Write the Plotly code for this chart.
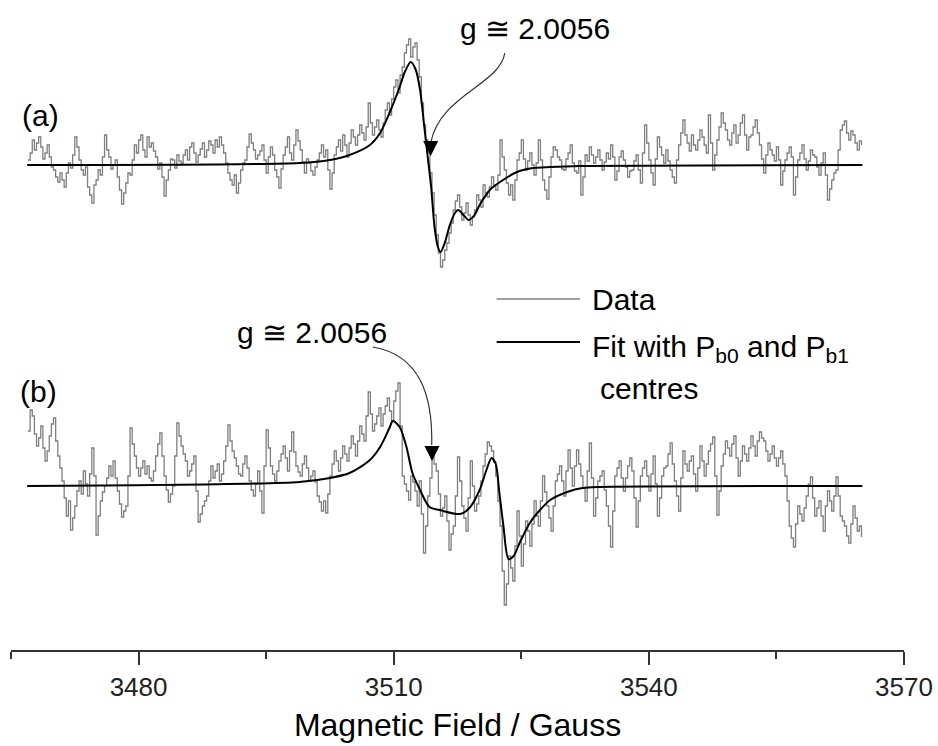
import numpy as np
import plotly.graph_objects as go

# EPR spectra, intensity in arbitrary units (baseline = 0)
field_start = 3467.0
field_step = 0.25

data_a = [
    5, 12, 25, 15, 22, 28, 18, 6, 12, 20, 8, -2, -5, -12, -17, -8, -15, -22, -8, 2,
    -3, 10, 28, 18, 5, -5, -10, -2, -22, -30, -38, -20, -15, -5, -10, 8, 30, 15, 8, -4,
    0, 5, -12, -25, -39, -28, -18, -8, -10, 5, 20, 12, 25, 30, 15, 8, 28, 18, 22, 14,
    8, -4, 2, -12, -31, -15, -5, 6, 5, -3, 10, 4, 2, 10, 15, 5, 18, 22, 12, 3,
    10, 16, 22, 8, 15, 24, 20, 12, 25, 18, 28, 20, 12, 2, -8, -15, -20, -10, -28, -18,
    -5, 2, 5, 18, 31, 22, 15, 6, 10, 14, 20, 5, -8, 8, 18, 10, -5, -12, -23, -4,
    10, 18, 28, 12, 5, 20, 35, 24, 15, 3, -8, 6, 2, -6, -10, -2, 5, 12, 20, 8,
    15, -5, -24, -8, 10, 18, 25, 14, 30, 20, 8, 22, 35, 28, 20, 30, 40, 32, 25, 38,
    62, 42, 30, 38, 45, 35, 28, 42, 55, 62, 50, 66, 78, 85, 72, 90, 98, 112, 120, 126,
    108, 118, 122, 105, 88, 62, 40, 25, 12, -8, -28, -50, -70, -88, -102, -95, -85, -78, -68, -58,
    -45, -36, -30, -42, -55, -48, -38, -50, -60, -52, -45, -30, -35, -42, -20, -28, -32, -22, -12, -20,
    -25, -10, 25, 8, -5, -18, -30, -20, -35, -15, 5, 12, 25, 6, -5, 4, 12, 0, -10, 2,
    25, 5, -15, -25, -34, -12, 8, 18, 15, 8, 5, -4, -5, 6, 12, 20, 2, -6, -8, 4,
    -30, -12, 10, 4, 18, 10, 2, 8, 15, 5, -5, 3, 12, 6, 20, 8, -15, -6, 8, 14,
    5, -2, -12, -6, -5, 4, 10, -5, -18, 12, 40, 22, 5, -8, -20, 6, 28, 18, 10, 2,
    15, 4, -5, -12, -18, 5, 20, 32, 45, 30, 22, 14, 30, 20, 15, 25, 35, 28, 20, 12,
    50, 22, -5, 10, 25, 38, 52, 42, 35, 25, 20, 32, 40, 22, 30, 42, 50, 30, 15, 28,
    30, 38, 45, 32, 20, 6, -8, 10, 22, 15, 10, 4, 18, 5, -20, -6, 5, 12, 18, 8,
    -30, -12, 5, 12, 20, 6, -5, 4, 15, 10, 8, -2, -10, 2, 12, -10, -35, -24, -15, -8,
    -5, 15, 35, 40, 44, 32, 25, 34, 30, 22, 15, 24, 20,
]

data_b = [
    55, 76, 70, 52, 40, 48, 60, 38, 25, 35, 50, 62, 68, 45, 30, 18, 5, -12, -30, -15,
    -44, -32, -20, -5, 5, -8, 15, 2, -10, 12, 38, 10, -49, -30, -15, -6, 0, 8, 20, 10,
    25, 8, -5, -18, -31, -25, -20, 10, 58, 42, 30, 18, 10, 18, 25, 12, 20, 8, 5, 15,
    30, 42, 53, 30, 10, -4, -16, -8, 0, 30, 63, 50, 40, 32, 25, 10, 15, 22, 30, -5,
    -36, -28, -20, -15, -10, 5, 20, 8, 15, 22, 5, 12, 25, 40, 61, 45, 35, 28, 20, 12,
    10, 22, 30, 18, 5, -4, -10, 2, 15, -5, -27, 20, 56, 38, 20, 12, 5, 15, 25, 32,
    40, 28, 15, 35, 54, 34, 20, 14, 10, 22, 30, 18, 5, 10, 15, 4, -10, -16, -25, -15,
    -27, -8, 10, 22, 35, 25, 15, 28, 40, 32, 25, 38, 50, 42, 30, 45, 60, 52, 45, 70,
    94, 72, 55, 62, 70, 78, 60, 72, 80, 88, 75, 65, 85, 95, 103, 60, 10, 2, -5, -14,
    10, 4, -5, -20, 5, -28, -67, -40, -10, 8, 29, 22, 15, -8, -30, -22, -10, -35, -64, -48,
    -40, -10, 29, 5, -20, -32, -45, -12, 25, 0, -25, -18, -10, 5, 20, 32, 44, 40, 35, 24,
    10, -15, -40, -85, -119, -98, -70, -82, -95, -60, -25, -50, -80, -58, -35, -45, -60, -38, -15, -30,
    -40, -15, 10, -6, -20, -32, -45, -20, 5, 12, 20, 5, -10, 15, 36, 18, 0, 20, 36, 22,
    10, -2, -15, 15, 43, 8, -30, -12, 5, 10, 15, -4, -20, -40, -61, -25, 10, 18, 25, 8,
    -5, 8, 20, 28, 15, -12, -41, -15, 10, 18, 25, 10, -5, 12, 30, 2, -30, -12, 10, 18,
    20, 32, 43, 22, 5, -10, -25, 8, 35, 22, 15, 25, 30, 12, -5, 18, 40, 25, 10, 22,
    35, 42, 49, 10, -29, -5, 20, 32, 45, 38, 30, 42, 50, 28, 10, 25, 40, 32, 25, 38,
    50, 40, 30, 45, 54, 48, 45, 35, 25, 32, 40, 28, 20, 28, 35, 22, 10, -15, -40, -52,
    -61, -38, -20, -28, -35, -22, -10, 2, 9, -12, -30, -22, -15, -30, -45, -20, -5, -15, -25, -10,
    9, -10, -30, -35, -40, -50, -57, -38, -20, -32, -45, -40, -51,
]

fit_a_field = [
    3466.9, 3498.9, 3502.5, 3504.8, 3507.2, 3508.4, 3509.5, 3510.7, 3511.3, 3512.0,
    3512.6, 3513.1, 3513.6, 3514.0, 3514.4, 3514.8, 3515.2, 3515.5, 3516.0, 3516.6,
    3517.2, 3517.6, 3518.2, 3518.8, 3519.5, 3520.1, 3521.3, 3522.5, 3524.5, 3526.4,
    3528.4, 3531.9, 3565.1,
]
fit_a = [
    0, 2, 5, 10, 20, 32, 52, 78, 93, 103,
    95, 75, 38, 8, -22, -62, -82, -87, -78, -60,
    -48, -45, -50, -55, -50, -40, -25, -17, -7, -3,
    -2, -1, 0,
]

fit_b_field = [
    3466.9, 3498.9, 3502.5, 3504.8, 3507.2, 3508.4, 3509.5, 3509.9, 3510.7, 3511.5,
    3512.2, 3513.1, 3514.2, 3515.4, 3517.8, 3518.9, 3520.1, 3520.9, 3521.5, 3522.0,
    3522.4, 3522.9, 3523.5, 3524.1, 3524.8, 3526.0, 3527.2, 3528.4, 3530.4, 3532.2,
    3534.2, 3565.1,
]
fit_b = [
    0, 4, 8, 13, 26, 39, 58, 65, 59, 39,
    13, -4, -21, -24, -28, -22, -4, 16, 28, 22,
    -5, -40, -73, -70, -57, -37, -24, -14, -6, -2,
    -1, 0,
]

tick_vals = [3480, 3510, 3540, 3570]
minor_vals = [3465, 3495, 3525, 3555]

field_a = field_start + field_step * np.arange(len(data_a))
field_b = field_start + field_step * np.arange(len(data_b))

FONT = "Liberation Sans, Arial, sans-serif"
GRAY = "#7f7f7f"

fig = go.Figure()

# (a) on y, (b) on y2
fig.add_trace(go.Scatter(x=field_a, y=data_a, mode="lines", line=dict(color=GRAY, width=1.3, shape="hv"),
                         showlegend=False, yaxis="y"))
fig.add_trace(go.Scatter(x=fit_a_field, y=fit_a, mode="lines",
                         line=dict(color="black", width=2, shape="spline", smoothing=0.8),
                         showlegend=False, yaxis="y"))
fig.add_trace(go.Scatter(x=field_b, y=data_b, mode="lines", line=dict(color=GRAY, width=1.3, shape="hv"),
                         showlegend=False, yaxis="y2"))
fig.add_trace(go.Scatter(x=fit_b_field, y=fit_b, mode="lines",
                         line=dict(color="black", width=2, shape="spline", smoothing=0.8),
                         showlegend=False, yaxis="y2"))

shapes = [
    # curved pointer lines to g-value
    dict(type="path", xref="x", yref="y",
         path="M 3523.06,112 C 3522.47,80 3515.4,70 3514.35,22",
         line=dict(color="#333", width=1.2)),
    dict(type="path", xref="x", yref="y2",
         path="M 3507.53,139 C 3513.06,131 3514.59,91 3514.47,41",
         line=dict(color="#333", width=1.2)),
    # legend samples
    dict(type="line", xref="x", yref="y2", x0=3522.1, x1=3531.9, y0=187, y1=187,
         line=dict(color=GRAY, width=1.3)),
    dict(type="line", xref="x", yref="y2", x0=3522.1, x1=3531.9, y0=144, y1=144,
         line=dict(color="black", width=2)),
]

txt = dict(family=FONT, size=30, color="black")
annotations = [
    dict(x=3514.35, y=9, xref="x", yref="y", ax=0, ay=-16, showarrow=True,
         arrowhead=2, arrowsize=2, arrowwidth=1.5, arrowcolor="black", text=""),
    dict(x=3514.5, y=25, xref="x", yref="y2", ax=0, ay=-16, showarrow=True,
         arrowhead=2, arrowsize=2, arrowwidth=1.5, arrowcolor="black", text=""),
    dict(x=3517.5, y=137, xref="x", yref="y", text="g ≅ 2.0056", showarrow=False,
         xanchor="left", yanchor="middle", font=txt),
    dict(x=3491.3, y=154, xref="x", yref="y2", text="g ≅ 2.0056", showarrow=False,
         xanchor="left", yanchor="middle", font=txt),
    dict(x=3466.0, y=50, xref="x", yref="y", text="(a)", showarrow=False,
         xanchor="left", yanchor="middle", font=txt),
    dict(x=3465.8, y=95, xref="x", yref="y2", text="(b)", showarrow=False,
         xanchor="left", yanchor="middle", font=txt),
    dict(x=3533.1, y=187, xref="x", yref="y2", text="Data", showarrow=False,
         xanchor="left", yanchor="middle", font=txt),
    dict(x=3533.1, y=138, xref="x", yref="y2", text="Fit with P<sub>b0</sub> and P<sub>b1</sub>",
         showarrow=False, xanchor="left", yanchor="middle", font=txt),
    dict(x=3534.0, y=98, xref="x", yref="y2", text="centres", showarrow=False,
         xanchor="left", yanchor="middle", font=txt),
]

fig.update_layout(
    width=938, height=746,
    margin=dict(l=11, r=34, t=0, b=96),
    plot_bgcolor="white", paper_bgcolor="white",
    xaxis=dict(
        range=[3465, 3570], showgrid=False, zeroline=False,
        showline=True, linecolor="#333", linewidth=2,
        ticks="outside", ticklen=13, tickwidth=2, tickcolor="#333",
        tickvals=tick_vals, tickfont=dict(family=FONT, size=26, color="#222"),
        minor=dict(tickvals=minor_vals, ticks="outside", ticklen=7, tickwidth=2, tickcolor="#333"),
        title=dict(text="Magnetic Field / Gauss", font=dict(family=FONT, size=32, color="black"), standoff=12),
    ),
    yaxis=dict(range=[-485, 165], visible=False),
    yaxis2=dict(range=[-164, 486], visible=False, overlaying="y"),
    shapes=shapes,
    annotations=annotations,
)

# page margin off so the figure fills the window exactly
fig.write_html("out.html", config={"displayModeBar": False},
               post_script="document.body.style.margin='0';")
